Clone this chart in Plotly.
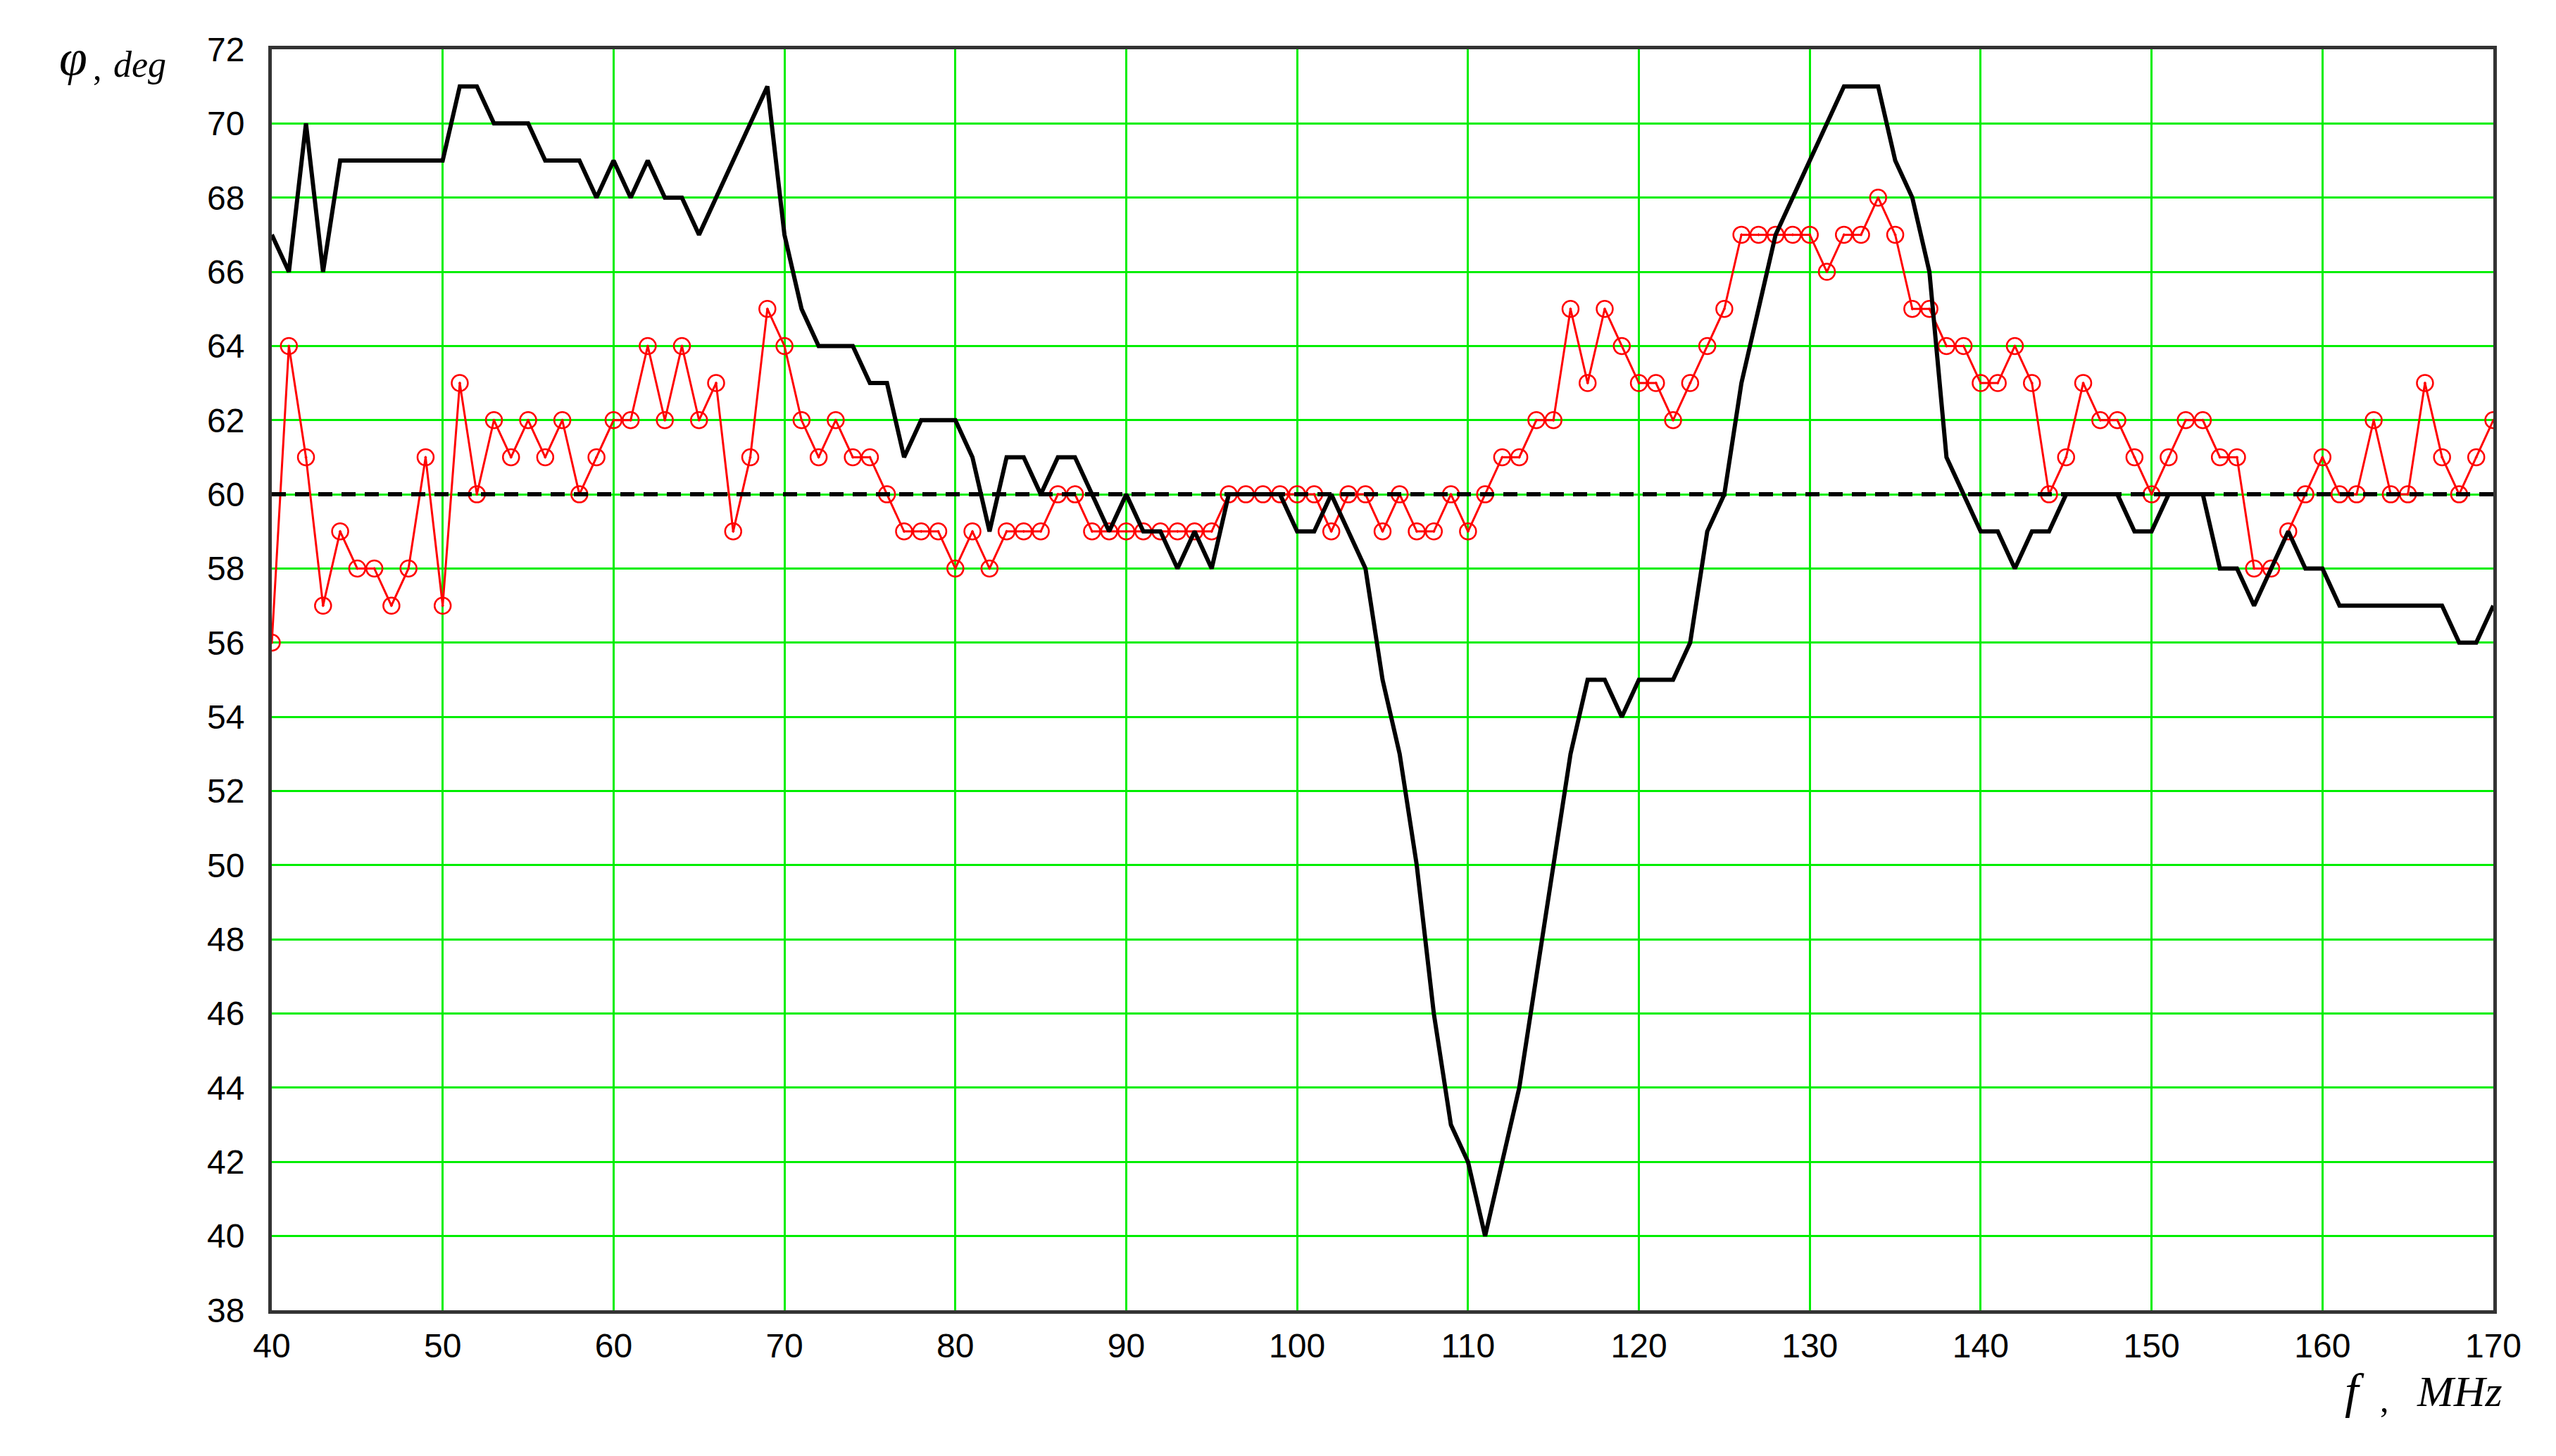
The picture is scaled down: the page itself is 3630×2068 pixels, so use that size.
import plotly.graph_objects as go

# frequency grid, MHz (1 MHz step)
freq = list(range(40, 171))

# red curve with open-circle markers
phase_red = [
    56, 64, 61, 57, 59, 58, 58, 57, 58, 61,
    57, 63, 60, 62, 61, 62, 61, 62, 60, 61,
    62, 62, 64, 62, 64, 62, 63, 59, 61, 65,
    64, 62, 61, 62, 61, 61, 60, 59, 59, 59,
    58, 59, 58, 59, 59, 59, 60, 60, 59, 59,
    59, 59, 59, 59, 59, 59, 60, 60, 60, 60,
    60, 60, 59, 60, 60, 59, 60, 59, 59, 60,
    59, 60, 61, 61, 62, 62, 65, 63, 65, 64,
    63, 63, 62, 63, 64, 65, 67, 67, 67, 67,
    67, 66, 67, 67, 68, 67, 65, 65, 64, 64,
    63, 63, 64, 63, 60, 61, 63, 62, 62, 61,
    60, 61, 62, 62, 61, 61, 58, 58, 59, 60,
    61, 60, 60, 62, 60, 60, 63, 61, 60, 61,
    62,
]

# black solid curve
phase_black = [
    67, 66, 70, 66, 69, 69, 69, 69, 69, 69,
    69, 71, 71, 70, 70, 70, 69, 69, 69, 68,
    69, 68, 69, 68, 68, 67, 68, 69, 70, 71,
    67, 65, 64, 64, 64, 63, 63, 61, 62, 62,
    62, 61, 59, 61, 61, 60, 61, 61, 60, 59,
    60, 59, 59, 58, 59, 58, 60, 60, 60, 60,
    59, 59, 60, 59, 58, 55, 53, 50, 46, 43,
    42, 40, 42, 44, 47, 50, 53, 55, 55, 54,
    55, 55, 55, 56, 59, 60, 63, 65, 67, 68,
    69, 70, 71, 71, 71, 69, 68, 66, 61, 60,
    59, 59, 58, 59, 59, 60, 60, 60, 60, 59,
    59, 60, 60, 60, 58, 58, 57, 58, 59, 58,
    58, 57, 57, 57, 57, 57, 57, 57, 56, 56,
    57,
]

# dashed reference level
ref_freq = [40, 170]
ref_phase = [60, 60]

x_ticks = list(range(40, 171, 10))
y_ticks = list(range(38, 73, 2))

W, H = 3630, 2068
L, R, T, B = 378, 97, 62, 215

fig = go.Figure()

fig.add_trace(go.Scatter(
    x=freq, y=phase_red, mode="lines+markers",
    line=dict(color="#ff0000", width=3),
    marker=dict(symbol="circle-open-dot", size=23, color="#ff0000",
                line=dict(width=2.5, color="#ff0000")),
    showlegend=False,
))

fig.add_trace(go.Scatter(
    x=ref_freq, y=ref_phase, mode="lines",
    line=dict(color="black", width=6, dash="20px,13px"),
    showlegend=False,
))

fig.add_trace(go.Scatter(
    x=freq, y=phase_black, mode="lines",
    line=dict(color="black", width=6),
    showlegend=False,
))

axis_font = dict(family="Liberation Sans Narrow, Liberation Sans, Arial, sans-serif",
                 size=48, color="black")

fig.update_xaxes(
    range=[40, 170], tickvals=x_ticks, ticktext=[str(v) for v in x_ticks],
    showgrid=True, gridcolor="#00ee00", gridwidth=3,
    showline=True, linecolor="#333333", linewidth=5, mirror=True,
    zeroline=False, ticks="", tickfont=axis_font, ticklabelstandoff=4,
)
fig.update_yaxes(
    range=[38, 72], tickvals=y_ticks, ticktext=[str(v) for v in y_ticks],
    showgrid=True, gridcolor="#00ee00", gridwidth=3,
    showline=True, linecolor="#333333", linewidth=5, mirror=True,
    zeroline=False, ticks="", tickfont=axis_font, ticklabelstandoff=24,
)

def px_x(px):
    return (px - L) / (W - L - R)

def px_y(py):
    return (H - B - py) / (H - B - T)

serif = "Liberation Serif, Times New Roman, serif"
labels = [
    ("<i>φ</i>", 96, 74, 72),
    (",", 130, 88, 50),
    ("<i>deg</i>", 190, 84, 52),
    ("<i>f</i>", 3336, 1968, 70),
    (",", 3378, 1980, 50),
    ("<i>MHz</i>", 3485, 1968, 62),
]
for text, px, py, size in labels:
    fig.add_annotation(
        text=text, xref="paper", yref="paper", x=px_x(px), y=px_y(py),
        xanchor="center", yanchor="middle", showarrow=False,
        font=dict(family=serif, size=size, color="black"),
    )

fig.update_layout(
    width=W, height=H,
    margin=dict(l=L, r=R, t=T, b=B),
    paper_bgcolor="white", plot_bgcolor="white",
)

fig.write_html("out.html")
